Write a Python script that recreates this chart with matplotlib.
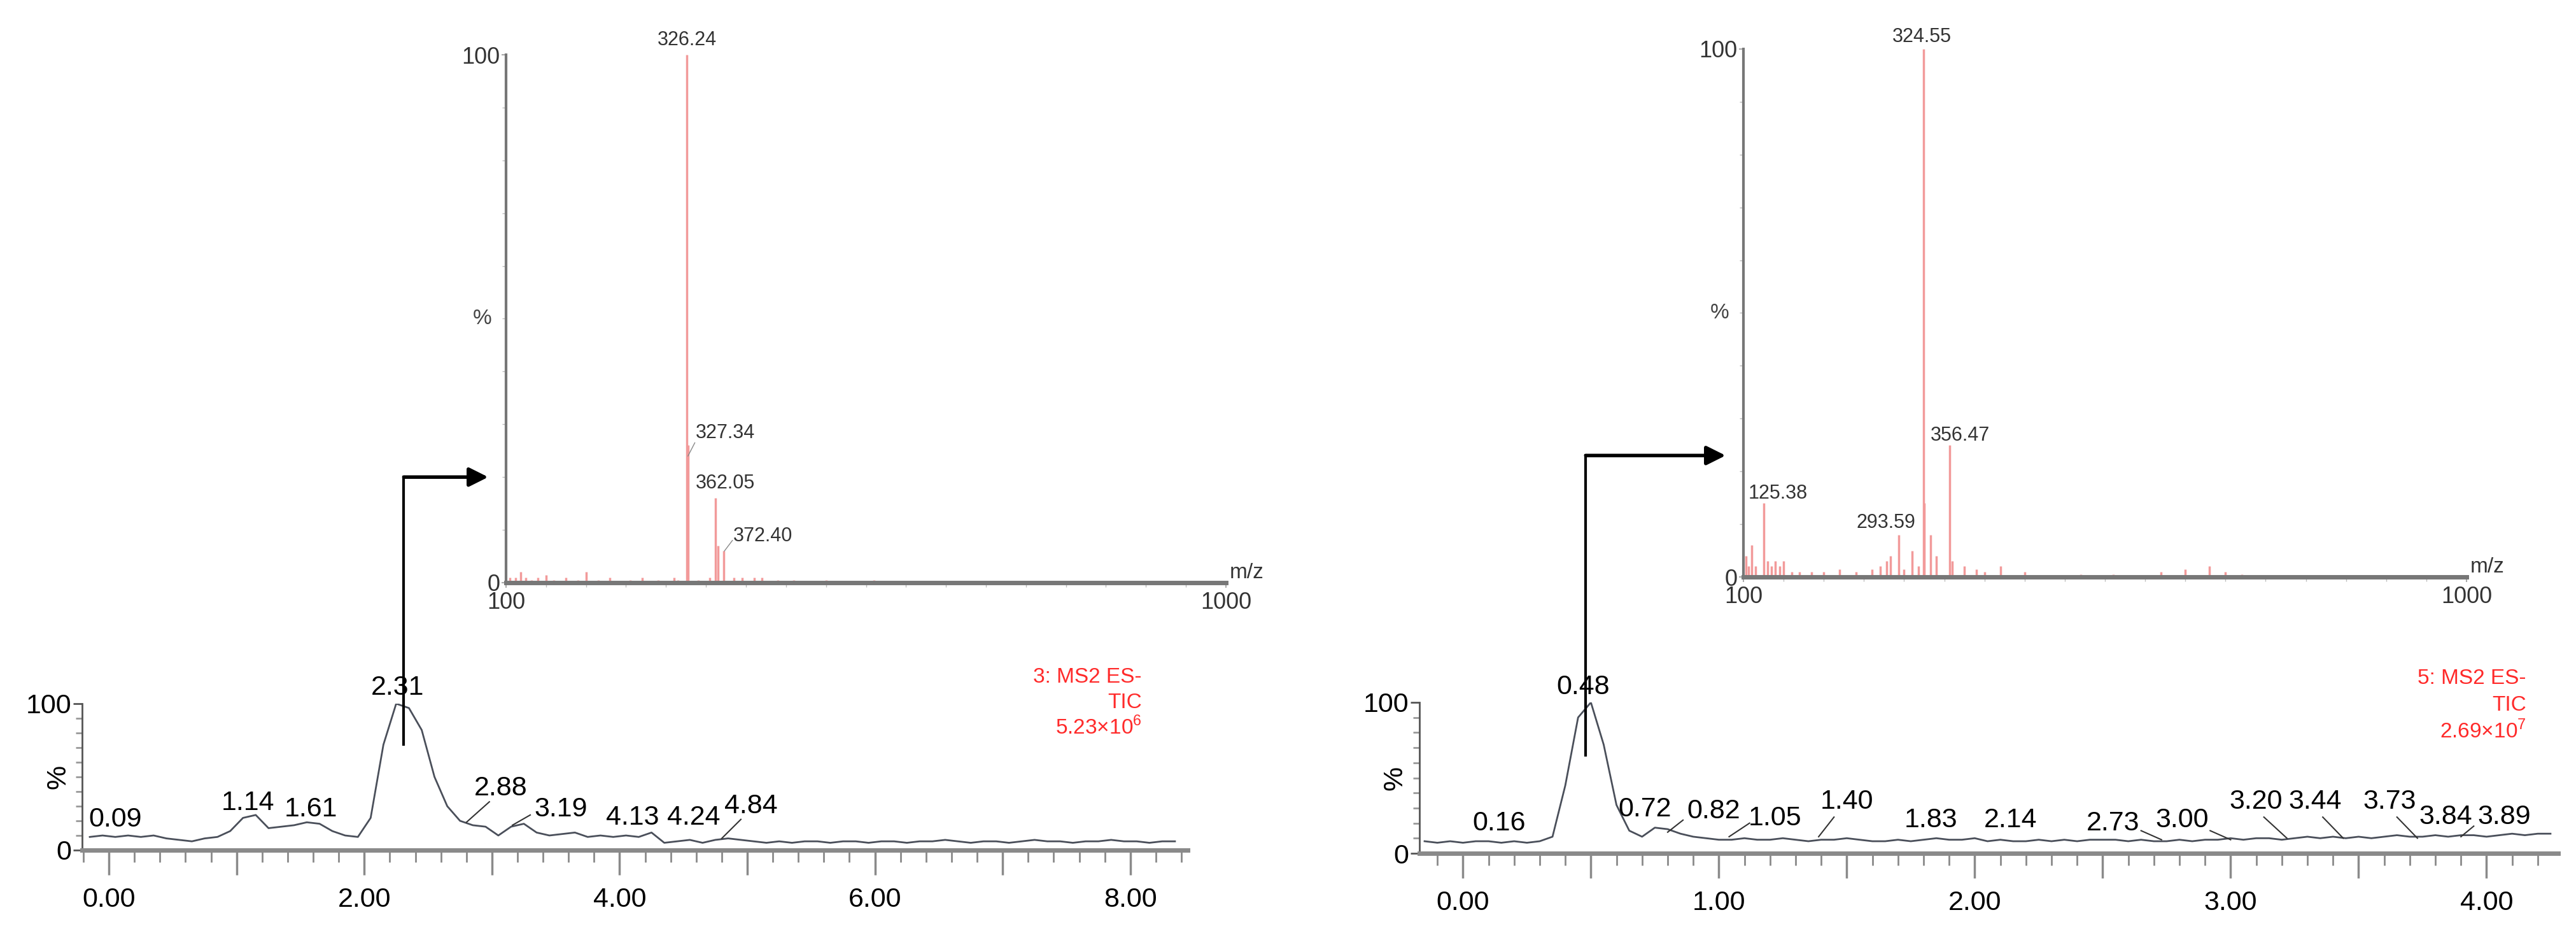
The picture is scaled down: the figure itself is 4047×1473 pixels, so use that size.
import numpy as np
import matplotlib
matplotlib.use("Agg")
import matplotlib.pyplot as plt
from matplotlib.ticker import MultipleLocator, FixedLocator
from matplotlib.transforms import offset_copy

plt.rcParams['font.family'] = ['Liberation Sans', 'DejaVu Sans']
plt.rcParams['mathtext.fontset'] = 'custom'
plt.rcParams['mathtext.rm'] = 'Liberation Sans'

W, H = 4048, 1473

# ---- chromatogram traces (relative intensity, %) ----
left_tic = [9, 10, 9, 10, 9, 10, 8, 7, 6, 8, 9, 13, 22, 24, 15, 16, 17, 19, 18, 13,
            10, 9, 22, 72, 100, 97, 82, 50, 30, 20, 17, 16, 10, 16, 18, 12, 10, 11, 12, 9,
            10, 9, 10, 9, 12, 5, 6, 7, 5, 7, 8, 7,
            6, 5, 6, 5, 6, 6, 5, 6, 6, 5, 6, 6, 5, 6, 6, 7, 6, 5, 6, 6, 5, 6, 7, 6,
            6, 5, 6, 6, 7, 6, 6, 5, 6, 6]
left_t = -0.15 + 0.1 * np.arange(len(left_tic))

right_tic = [8, 7, 8, 7, 8, 8, 7, 8, 7, 8,
             11, 45, 90, 100, 72, 32, 15, 11, 17, 16, 13, 11, 10, 9,
             9, 10, 9, 9, 10, 9, 8, 9, 9, 10, 9, 8, 8, 9, 8, 9, 10, 9, 9, 10, 8, 9, 8, 8, 9, 8, 9, 8, 9, 9,
             9, 8, 9, 8, 8, 9, 8, 9, 9, 10, 9, 10, 10, 9, 10, 11, 10, 11, 10, 11, 10, 11, 12, 11,
             11, 12, 11, 12, 12, 11, 12, 13, 12, 13, 13]
right_t = -0.15 + 0.05 * np.arange(len(right_tic))

# peak labels: (text, retention time)
left_peaks = ["0.09", "1.14", "1.61", "2.31", "2.88", "3.19", "4.13", "4.24", "4.84"]
right_peaks = ["0.16", "0.48", "0.72", "0.82", "1.05", "1.40", "1.83", "2.14", "2.73",
               "3.00", "3.20", "3.44", "3.73", "3.84", "3.89"]

# ---- MS2 spectra ----
left_mz = [105, 112, 118, 125, 132, 140, 150, 160, 175, 190, 200, 215, 230, 255, 270, 290,
           310, 315, 326.24, 327.34, 340, 355, 362.05, 365, 372.40, 385, 395, 410, 420, 440,
           460, 500, 560, 700]
left_int = [1, 1, 2, 1, 0.5, 1, 1.5, 0.5, 1, 0.5, 2, 0.5, 1, 0.5, 1, 0.5,
            1, 0.5, 100, 26, 0.5, 1, 16, 7, 6, 1, 1, 1, 1, 0.5,
            0.5, 0.5, 0.5, 0.3]
right_mz = [103, 106, 110, 115, 125.38, 130, 135, 140, 145, 150, 160, 170, 185, 200, 220, 240,
            260, 270, 278, 283, 293.59, 300, 310, 318, 324.55, 325, 333, 340, 356.47, 360, 375,
            390, 400, 420, 450, 520, 560, 620, 650, 680, 700, 720]
right_int = [4, 2, 6, 2, 14, 3, 2, 3, 2, 3, 1, 1, 1, 1, 1.5, 1,
             1.5, 2, 3, 4, 8, 1.5, 5, 2, 100, 14, 8, 4, 25, 3, 2,
             1.5, 1, 2, 1, 0.5, 0.5, 1, 1.5, 2, 1, 0.5]

TRACE = '#4a4f5a'
AXG = '#8a8a8a'


def px_axes(x0, x1, y_top, y_bot):
    return fig.add_axes([x0 / W, 1 - y_bot / H, (x1 - x0) / W, (y_bot - y_top) / H])


def style_chrom(ax, xlim, major, minor, labelstep):
    ax.set_xlim(*xlim)
    ax.set_ylim(0, 100)
    for s in ['top', 'right']:
        ax.spines[s].set_visible(False)
    ax.spines['bottom'].set_color(AXG)
    ax.spines['bottom'].set_linewidth(5)
    ax.spines['left'].set_color('#555555')
    ax.spines['left'].set_linewidth(2)
    ax.spines['left'].set_bounds(0, 100)
    ax.xaxis.set_major_locator(MultipleLocator(major))
    ax.xaxis.set_minor_locator(MultipleLocator(minor))
    ax.xaxis.set_major_formatter(lambda v, p: f"{v:.2f}" if abs(v / labelstep - round(v / labelstep)) < 1e-6 else "")
    ax.tick_params(axis='x', which='major', length=28, width=2.5, color=AXG, labelsize=31, pad=14)
    ax.tick_params(axis='x', which='minor', length=14, width=2, color=AXG)
    ax.yaxis.set_major_locator(FixedLocator([0, 100]))
    ax.yaxis.set_minor_locator(MultipleLocator(10))
    ax.tick_params(axis='y', which='major', length=10, width=2, color='#555555', labelsize=31, pad=2)
    ax.tick_params(axis='y', which='minor', length=7, width=2, color='#999999')
    tr = offset_copy(ax.transAxes, fig=fig, x=-38, y=0, units='dots')
    ax.text(0, 0.5, '%', transform=tr, rotation=90, fontsize=31, ha='center', va='center')
    ax.patch.set_alpha(0)


def label(ax, txt, tx, ty, px=None, py=None, qx=None, qy=None, size=31):
    ax.text(tx, ty, txt, ha='center', va='center', fontsize=size, clip_on=False)
    if px is not None:
        ax.plot([px, qx], [py, qy], color='#333333', lw=1.5, clip_on=False)


def style_ms(ax):
    ax.set_xlim(100, 1000)
    ax.set_ylim(0, 100)
    for s in ['top', 'right']:
        ax.spines[s].set_visible(False)
    ax.spines['bottom'].set_color('#777777')
    ax.spines['bottom'].set_linewidth(5)
    ax.spines['left'].set_color('#777777')
    ax.spines['left'].set_linewidth(3)
    ax.xaxis.set_major_locator(FixedLocator([100, 1000]))
    ax.xaxis.set_minor_locator(MultipleLocator(50))
    ax.yaxis.set_major_locator(FixedLocator([0, 100]))
    ax.yaxis.set_minor_locator(MultipleLocator(10))
    ax.tick_params(axis='x', which='major', length=6, width=1.5, color='#aaaaaa', labelsize=26,
                   pad=4, labelcolor='#333333')
    ax.tick_params(axis='x', which='minor', length=5, width=1, color='#bbbbbb')
    ax.tick_params(axis='y', which='major', length=5, width=1.5, color='#aaaaaa', labelsize=26,
                   pad=2, labelcolor='#333333')
    ax.tick_params(axis='y', which='minor', length=4, width=1, color='#bbbbbb')
    ax.text(-0.02, 0.5, '%', transform=ax.transAxes, fontsize=24, ha='right', va='center',
            color='#444444')
    ax.text(1.005, 0.0, 'm/z', transform=ax.transAxes, fontsize=24, ha='left', va='bottom',
            color='#333333')
    ax.patch.set_alpha(0)


def arrow(ax_c, rt, y_from, ax_m, y_to):
    inv = fig.transFigure.inverted()
    p0 = ax_c.transData.transform((rt, y_from))
    pm = ax_m.transData.transform((100, y_to))
    x_end = pm[0] - 28
    a = inv.transform((p0[0], p0[1]))
    b = inv.transform((p0[0], pm[1]))
    c = inv.transform((x_end, pm[1]))
    fig.lines.append(plt.Line2D([a[0], b[0]], [a[1], b[1]], transform=fig.transFigure,
                                color='black', lw=3))
    fig.patches.append(matplotlib.patches.FancyArrowPatch(
        (b[0], b[1]), (c[0], c[1]), transform=fig.transFigure, arrowstyle='-|>',
        mutation_scale=45, color='black', lw=4, shrinkA=0, shrinkB=0))


fig = plt.figure(figsize=(W / 100, H / 100), dpi=100)

# ---------------- left panel ----------------
axL = px_axes(129, 1866, 1105, 1335)
style_chrom(axL, (-0.21, 8.45), 1.0, 0.2, 2.0)
axL.plot(left_t, left_tic, color=TRACE, lw=2)
label(axL, left_peaks[0], 0.05, 21)
label(axL, left_peaks[1], 1.09, 32)
label(axL, left_peaks[2], 1.58, 28)
label(axL, left_peaks[3], 2.26, 111)
label(axL, left_peaks[4], 3.07, 42, 2.80, 19, 2.98, 33)
label(axL, left_peaks[5], 3.54, 28, 3.16, 17, 3.30, 24)
label(axL, left_peaks[6], 4.10, 22)
label(axL, left_peaks[7], 4.58, 22)
label(axL, left_peaks[8], 5.03, 30, 4.80, 8, 4.95, 21)
for i, t in enumerate(["3: MS2 ES-", "TIC", "5.23×10$^{6}$"]):
    fig.text(1794 / W, 1 - (1063 + 40 * i) / H, t, color='#ff2a2a', fontsize=24,
             ha='right', va='center')

msL = px_axes(795, 1926, 86, 915)
style_ms(msL)
msL.vlines(left_mz, 0, left_int, color='#f29a9a', lw=2.5)
msL.text(326, 101, "326.24", ha='center', va='bottom', fontsize=22, color='#333333')
msL.text(337, 26.5, "327.34", ha='left', va='bottom', fontsize=22, color='#333333')
msL.plot([327.5, 336], [24, 26.5], color='#888888', lw=1)
msL.text(337, 17, "362.05", ha='left', va='bottom', fontsize=22, color='#333333')
msL.text(384, 7, "372.40", ha='left', va='bottom', fontsize=22, color='#333333')
msL.plot([373, 383], [6, 8], color='#888888', lw=1)
arrow(axL, 2.31, 72, msL, 20)

# ---------------- right panel ----------------
axR = px_axes(2230, 4019, 1103, 1340)
style_chrom(axR, (-0.17, 4.28), 0.5, 0.1, 1.0)
axR.plot(right_t, right_tic, color=TRACE, lw=2)
label(axR, right_peaks[0], 0.14, 20)
label(axR, right_peaks[1], 0.47, 110)
label(axR, right_peaks[2], 0.71, 29)
label(axR, right_peaks[3], 0.98, 28, 0.80, 14, 0.86, 22)
label(axR, right_peaks[4], 1.22, 23, 1.04, 11, 1.12, 20)
label(axR, right_peaks[5], 1.50, 34, 1.39, 11, 1.45, 24)
label(axR, right_peaks[6], 1.83, 22)
label(axR, right_peaks[7], 2.14, 22)
label(axR, right_peaks[8], 2.54, 20, 2.73, 9, 2.65, 15)
label(axR, right_peaks[9], 2.81, 22, 3.00, 9, 2.92, 15)
label(axR, right_peaks[10], 3.10, 34, 3.22, 10, 3.13, 24)
label(axR, right_peaks[11], 3.33, 34, 3.44, 10, 3.36, 24)
label(axR, right_peaks[12], 3.62, 34, 3.73, 10, 3.65, 24)
label(axR, right_peaks[13], 3.84, 24)
label(axR, right_peaks[14], 4.07, 24, 3.90, 11, 3.95, 18)
for i, t in enumerate(["5: MS2 ES-", "TIC", "2.69×10$^{7}$"]):
    fig.text(3969 / W, 1 - (1065 + 42 * i) / H, t, color='#ff2a2a', fontsize=24,
             ha='right', va='center')

msR = px_axes(2739, 3875, 77, 906)
style_ms(msR)
msR.vlines(right_mz, 0, right_int, color='#f29a9a', lw=2.5)
msR.text(322, 100.5, "324.55", ha='center', va='bottom', fontsize=22, color='#333333')
msR.text(333, 25, "356.47", ha='left', va='bottom', fontsize=22, color='#333333')
msR.text(106, 14, "125.38", ha='left', va='bottom', fontsize=22, color='#333333')
msR.text(314, 8.5, "293.59", ha='right', va='bottom', fontsize=22, color='#333333')
arrow(axR, 0.48, 65, msR, 23)

fig.savefig("out.png", dpi=100, facecolor='white')
